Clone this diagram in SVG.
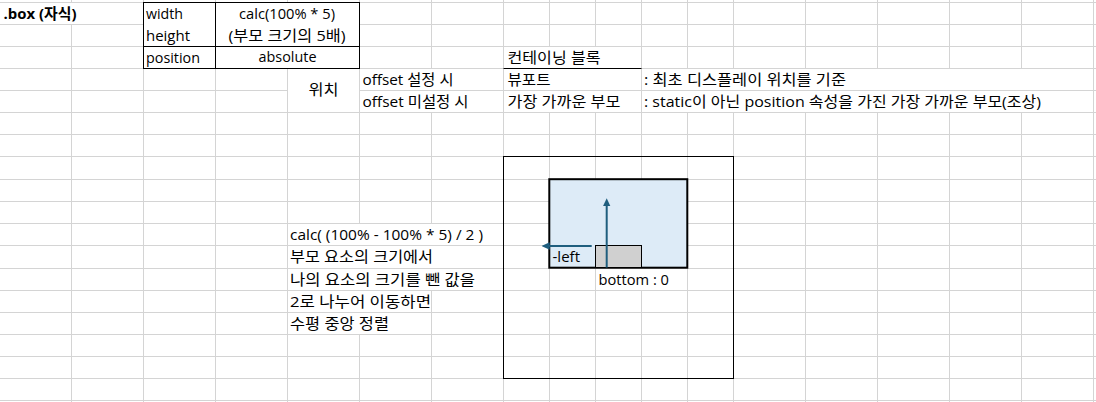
<svg xmlns="http://www.w3.org/2000/svg" width="1096" height="402" viewBox="0 0 1096 402">
<defs>
<style>
.grid{stroke:#D4D4D4;stroke-width:1;fill:none}
.t{font-family:"Open Sans","Noto Sans CJK KR",sans-serif;font-size:15px;fill:#000}
.b{font-weight:bold}
.blk{stroke:#000;stroke-width:1;fill:none}
.arrow{stroke:#1F5E7E;stroke-width:2;fill:none}
</style>
<marker id="ah" markerUnits="userSpaceOnUse" markerWidth="8" markerHeight="8" refX="4" refY="3.75" orient="auto">
<path d="M0,0 L8,3.75 L0,7.5 z" fill="#1F5E7E"/>
</marker>
</defs>
<rect x="0" y="0" width="1096" height="402" fill="#FFFFFF"/>
<g id="grid">
<path class="grid" d="M0 2.5H1096M0 24.5H1096M0 46.5H1096M0 68.5H1096M0 90.5H287.5M359.5 90.5H1096M0 112.5H1096M0 134.5H1096M0 156.5H1096M0 179.5H1096M0 201.5H1096M0 223.5H1096M0 245.5H1096M0 268.5H1096M0 290.5H1096M0 312.5H1096M0 334.5H1096M0 356.5H1096M0 378.5H1096M0 400.5H1096"/>
<path class="grid" d="M71.5 0V3M71.5 24V402M143.5 0V402M215.5 0V402M287.5 0V402M359.5 0V224M359.5 334V402M431.5 0V69M431.5 112V224M431.5 290V402M503.5 0V402M549.5 0V47M549.5 112V402M595.5 0V47M595.5 112V402M641.5 0V269M641.5 290V402M687.5 0V69M687.5 112V402M733.5 0V69M733.5 112V402M805.5 0V69M805.5 112V402M877.5 0V69M877.5 112V402M949.5 0V69M949.5 112V402M1021.5 0V69M1021.5 112V402M1093.5 0V402"/>
</g>
<g id="title">
<text class="t b" x="3.5" y="19" textLength="73" lengthAdjust="spacingAndGlyphs">.box (자식)</text>
</g>
<g id="prop-table">
<rect x="143.5" y="2.5" width="216" height="66" fill="#FFFFFF" stroke="#000" stroke-width="1"/>
<path class="blk" d="M215.5 2.5V68.5M143.5 46.5H359.5"/>
<text class="t" x="146" y="19" textLength="37" lengthAdjust="spacingAndGlyphs">width</text>
<text class="t" x="146" y="41" textLength="44" lengthAdjust="spacingAndGlyphs">height</text>
<text class="t" x="146" y="63" textLength="54" lengthAdjust="spacingAndGlyphs">position</text>
<text class="t" x="239" y="19" textLength="96" lengthAdjust="spacingAndGlyphs">calc(100% * 5)</text>
<text class="t" x="228.5" y="41" textLength="117" lengthAdjust="spacingAndGlyphs">(부모 크기의 5배)</text>
<text class="t" x="258.5" y="62" textLength="58" lengthAdjust="spacingAndGlyphs">absolute</text>
</g>
<g id="position-table">
<text class="t" x="308.5" y="95" textLength="30" lengthAdjust="spacingAndGlyphs">위치</text>
<text class="t" x="362.5" y="85" textLength="91" lengthAdjust="spacingAndGlyphs">offset 설정 시</text>
<text class="t" x="362.5" y="107" textLength="106" lengthAdjust="spacingAndGlyphs">offset 미설정 시</text>
<text class="t" x="507.5" y="63" textLength="93" lengthAdjust="spacingAndGlyphs">컨테이닝 블록</text>
<path class="blk" d="M503.5 68.5H641.5"/>
<text class="t" x="507.5" y="85" textLength="43" lengthAdjust="spacingAndGlyphs">뷰포트</text>
<text class="t" x="507.5" y="107" textLength="113" lengthAdjust="spacingAndGlyphs">가장 가까운 부모</text>
<text class="t" x="644" y="85" textLength="202" lengthAdjust="spacingAndGlyphs">: 최초 디스플레이 위치를 기준</text>
<text class="t" x="644" y="107" textLength="397" lengthAdjust="spacingAndGlyphs">: static이 아닌 position 속성을 가진 가장 가까운 부모(조상)</text>
</g>
<g id="explanation">
<text class="t" x="290" y="240" textLength="193" lengthAdjust="spacingAndGlyphs">calc( (100% - 100% * 5) / 2 )</text>
<text class="t" x="290" y="262" textLength="143" lengthAdjust="spacingAndGlyphs">부모 요소의 크기에서</text>
<text class="t" x="290" y="285" textLength="185" lengthAdjust="spacingAndGlyphs">나의 요소의 크기를 뺀 값을</text>
<text class="t" x="290" y="307" textLength="141" lengthAdjust="spacingAndGlyphs">2로 나누어 이동하면</text>
<text class="t" x="290" y="329" textLength="99" lengthAdjust="spacingAndGlyphs">수평 중앙 정렬</text>
</g>
<g id="parent-box">
<rect class="blk" x="503.5" y="156.5" width="230" height="222"/>
</g>
<g id="child-box">
<rect x="549.3" y="179.2" width="138" height="88.5" fill="#DDEBF7" stroke="#000" stroke-width="2"/>
<text class="t" x="552.5" y="262" textLength="27.5" lengthAdjust="spacingAndGlyphs">-left</text>
</g>
<g id="origin-box">
<rect x="595.5" y="245.5" width="46" height="22" fill="#D0D0D0" stroke="#000" stroke-width="1"/>
</g>
<g id="bottom-label">
<text class="t" x="598.5" y="285" textLength="70.5" lengthAdjust="spacingAndGlyphs">bottom : 0</text>
</g>
<g id="connectors">
<line class="arrow" x1="606.7" y1="267.5" x2="606.7" y2="202.3" marker-end="url(#ah)"/>
<line class="arrow" x1="591.7" y1="246" x2="545.7" y2="246" marker-end="url(#ah)"/>
</g>
</svg>
